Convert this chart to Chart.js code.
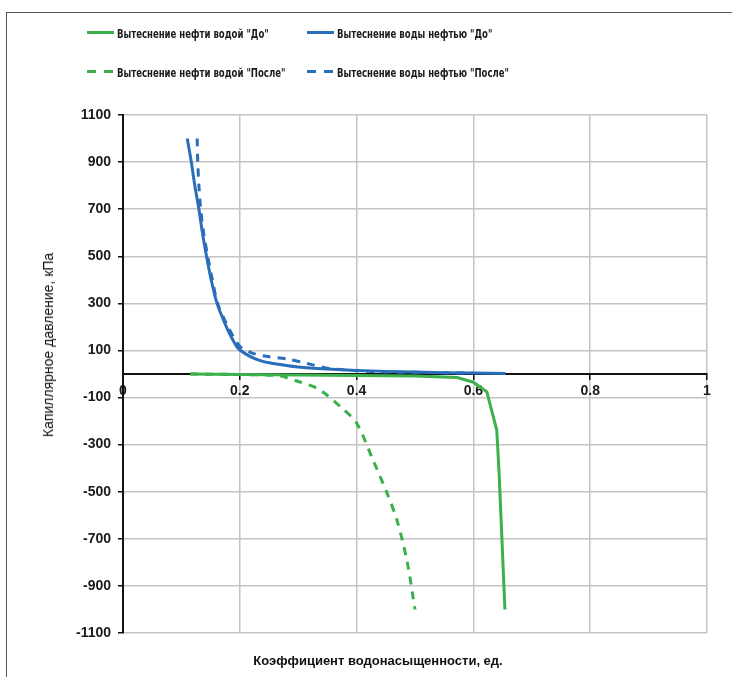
<!DOCTYPE html>
<html>
<head>
<meta charset="utf-8">
<script src="https://cdn.jsdelivr.net/npm/chart.js@4/dist/chart.umd.min.js"></script>
<style>
  body { margin: 0; background: #fff; }
  #wrap { position: relative; width: 732px; height: 677px; overflow: hidden; background: #fff; }
  #frame { position: absolute; left: 6px; top: 12px; width: 800px; height: 800px; border: 1.5px solid #555; }
  canvas { position: absolute; left: 0; top: 0; }
  .leg { position: absolute; font: bold 13px "DejaVu Sans Condensed", sans-serif; color: #1a1a1a; white-space: nowrap; line-height: 15px; }
  .leg .txt { display: inline-block; transform: scaleX(0.73); transform-origin: left center; vertical-align: middle; }
  .leg .mark { display: inline-block; width: 27px; height: 0; border-top: 3px solid; vertical-align: middle; margin-right: 3px; position: relative; top: -1px; }
  .leg .mark.dash { border-top-style: none; height: 3px; width: 27px; }
  .leg .mark.dash::before, .leg .mark.dash::after { content: ""; position: absolute; top: 0; width: 9px; height: 3px; background: currentColor; }
  .leg .mark.dash::before { left: 0; }
  .leg .mark.dash::after { left: 17px; }
  #ytitle { position: absolute; left: 48px; top: 345px; transform: translate(-50%, -50%) rotate(-90deg); font: 14px "Liberation Sans", sans-serif; color: #111; white-space: nowrap; }
  #xtitle { position: absolute; left: 378px; top: 660px; transform: translate(-50%, -50%); font: bold 13px "Liberation Sans", sans-serif; color: #111; white-space: nowrap; }
</style>
</head>
<body>
<div id="wrap">
  <div id="frame"></div>
  <canvas id="chart" width="732" height="677"></canvas>
  <div id="legend"></div>
  <div id="ytitle">Капиллярное давление, кПа</div>
  <div id="xtitle">Коэффициент водонасыщенности, ед.</div>
</div>
<script>
// series labels
const labels = [
    'Вытеснение нефти водой "До"',
    'Вытеснение воды нефтью "До"',
    'Вытеснение нефти водой "После"',
    'Вытеснение воды нефтью "После"'
];

// oil displaced by water, before
const oilWaterBeforeX = [0.115, 0.20, 0.30, 0.40, 0.50, 0.572, 0.600, 0.623, 0.640, 0.644, 0.654];
const oilWaterBeforeY = [0, -2, -4, -6, -9, -15, -35, -76, -238, -420, -1000];

// water displaced by oil, before
const waterOilBeforeX = [0.110, 0.117, 0.123, 0.130, 0.136, 0.143, 0.151, 0.161, 0.177, 0.187, 0.197, 0.215, 0.235, 0.257, 0.300, 0.349, 0.400, 0.500, 0.600, 0.655];
const waterOilBeforeY = [1000, 900, 800, 700, 600, 500, 400, 300, 200, 150, 110, 78, 57, 45, 30, 21, 15, 8, 4, 2];

// oil displaced by water, after
const oilWaterAfterX = [0.115, 0.20, 0.25, 0.269, 0.303, 0.332, 0.349, 0.375, 0.400, 0.428, 0.452, 0.469, 0.486, 0.500];
const oilWaterAfterY = [0, -2, -5, -8, -34, -60, -89, -145, -208, -365, -505, -620, -790, -1000];

// water displaced by oil, after
const waterOilAfterX = [0.127, 0.128, 0.130, 0.133, 0.138, 0.145, 0.153, 0.162, 0.180, 0.200, 0.220, 0.245, 0.280, 0.315, 0.350, 0.400, 0.450, 0.500, 0.550, 0.600];
const waterOilAfterY = [1000, 900, 800, 700, 600, 500, 400, 300, 200, 118, 90, 75, 64, 45, 25, 14, 9, 7, 5, 4];

const xTicks = [0, 0.2, 0.4, 0.6, 0.8, 1];
const yMin = -1100, yMax = 1100, yStep = 200;

const green = '#3BB04B';
const blue = '#2A6EBB';

function pts(xs, ys) {
    return xs.map((x, i) => ({ x: x, y: ys[i] }));
}

const datasets = [
    { label: labels[0], data: pts(oilWaterBeforeX, oilWaterBeforeY), borderColor: green, borderDash: [], tension: 0 },
    { label: labels[1], data: pts(waterOilBeforeX, waterOilBeforeY), borderColor: blue, borderDash: [], tension: 0.3 },
    { label: labels[2], data: pts(oilWaterAfterX, oilWaterAfterY), borderColor: green, borderDash: [8, 7], tension: 0.3 },
    { label: labels[3], data: pts(waterOilAfterX, waterOilAfterY), borderColor: blue, borderDash: [8, 7], tension: 0.3 }
].map(d => Object.assign(d, { borderWidth: 3, pointRadius: 0, fill: false, showLine: true }));

// legend, two rows by two columns
const legendPos = [
    { left: 87, top: 25 }, { left: 307, top: 25 },
    { left: 87, top: 64 }, { left: 307, top: 64 }
];
const legendDiv = document.getElementById('legend');
datasets.forEach((d, i) => {
    const item = document.createElement('div');
    item.className = 'leg';
    item.style.left = legendPos[i].left + 'px';
    item.style.top = legendPos[i].top + 'px';
    const mark = document.createElement('span');
    mark.className = 'mark' + (d.borderDash.length ? ' dash' : '');
    mark.style.color = d.borderColor;
    mark.style.borderTopColor = d.borderColor;
    const txt = document.createElement('span');
    txt.className = 'txt';
    txt.textContent = d.label;
    item.appendChild(mark);
    item.appendChild(txt);
    legendDiv.appendChild(item);
});

const tickFont = { family: '"Liberation Sans", sans-serif', size: 14, weight: 'bold' };

new Chart(document.getElementById('chart').getContext('2d'), {
    type: 'scatter',
    data: { datasets: datasets },
    options: {
        responsive: false,
        animation: false,
        layout: { padding: { top: 115, right: 25, bottom: 44, left: 0 } },
        plugins: { legend: { display: false }, tooltip: { enabled: false } },
        scales: {
            x: {
                type: 'linear',
                min: 0,
                max: 1,
                position: { y: 0 },
                afterBuildTicks: (axis) => { axis.ticks = xTicks.map(v => ({ value: v })); },
                ticks: {
                    color: '#1a1a1a',
                    font: tickFont,
                    padding: 4,
                    maxRotation: 0,
                    callback: (v) => String(v)
                },
                grid: { color: '#c4c4c4', lineWidth: 1.5, tickColor: '#111', tickLength: 5 },
                border: { color: '#111', width: 2 }
            },
            y: {
                min: yMin,
                max: yMax,
                afterFit: (axis) => { axis.width = 123; },
                ticks: {
                    stepSize: yStep,
                    color: '#1a1a1a',
                    font: tickFont,
                    padding: 7,
                    callback: (v) => String(Math.round(v))
                },
                grid: { color: '#c4c4c4', lineWidth: 1.5, tickColor: '#111', tickLength: 5 },
                border: { color: '#111', width: 2 }
            }
        }
    }
});
</script>
</body>
</html>
